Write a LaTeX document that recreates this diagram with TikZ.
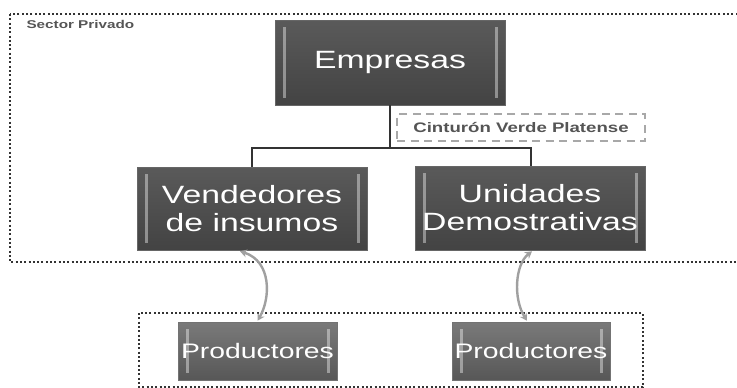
\documentclass[tikz,border=0pt]{standalone}
\usepackage{fontspec}
\setmainfont{Liberation Sans}[FakeStretch=1.35]
\usetikzlibrary{arrows.meta,calc}
\definecolor{boxtop}{HTML}{5A5A5A}
\definecolor{boxbot}{HTML}{434343}
\definecolor{ptop}{HTML}{7A7A7A}
\definecolor{pbot}{HTML}{575757}
\definecolor{dotc}{HTML}{333333}
\definecolor{arrc}{HTML}{A0A0A0}
\definecolor{dashc}{HTML}{A8A8A8}
\definecolor{labc}{HTML}{555555}
\tikzset{
  darkbox/.style={draw=black!60, line width=0.6pt, top color=boxtop, bottom color=boxbot,
    text=white, align=center, inner sep=0pt, font=\fontsize{25}{28}\selectfont},
  prodbox/.style={draw=black!55, line width=0.6pt, top color=ptop, bottom color=pbot,
    text=white, align=center, inner sep=0pt, font=\fontsize{21}{24}\selectfont},
  grpbox/.style={draw=dotc, line width=2pt, dash pattern=on 2pt off 2.3pt},
  cintbox/.style={draw=dashc, line width=1.8pt, dash pattern=on 8pt off 5.5pt,
    text=labc, font=\bfseries\fontsize{13.8}{16}\selectfont, inner sep=0pt},
  conn/.style={draw=black!80, line width=1.3pt},
  biarrow/.style={draw=arrc, line width=2.4pt, {Stealth[length=7pt,width=8pt]}-{Stealth[length=7pt,width=8pt]}},
  bevel/.style={fill=white, opacity=0.4}
}
\begin{document}
\begin{tikzpicture}[x=1pt,y=-1pt]
\useasboundingbox (0,0) rectangle (737,388);
\fill[white] (0,0) rectangle (737,388);
% group boxes
\draw[grpbox] (10,14) rectangle (760,262);
\draw[grpbox] (139,313) rectangle (643,387);
\node[anchor=base west, text=labc, font=\bfseries\fontsize{11.3}{13}\selectfont] (sp) at (23,28) {Sector Privado};
% nodes
\node[darkbox, minimum width=230pt, minimum height=85pt] (emp) at (390,62.5) {Empresas};
\node[darkbox, minimum width=230pt, minimum height=83pt] (vend) at (252,208.5) {Vendedores\\de insumos};
\node[darkbox, minimum width=230pt, minimum height=84pt] (unid) at (530,208) {Unidades\\Demostrativas};
\node[prodbox, minimum width=159pt, minimum height=58pt] (p1) at (257.5,351) {Productores};
\node[prodbox, minimum width=158pt, minimum height=58pt] (p2) at (531,351) {Productores};
\node[cintbox, minimum width=248pt, minimum height=27pt] (cint) at (521,127.5) {Cinturón Verde Platense};
% bevel highlights
\foreach \n in {emp,vend,unid,p1,p2}{
  \fill[bevel] ($(\n.north west)+(8,7)$) rectangle ($(\n.south west)+(11,-7)$);
  \fill[bevel] ($(\n.north east)+(-10,7)$) rectangle ($(\n.south east)+(-7,-7)$);
}
% connectors
\coordinate (j) at (390,148);
\draw[conn] (emp.south) -- (j);
\draw[conn] (vend.north) |- (j) -| ($(unid.north)+(1,0)$);
% double arrows
\coordinate (a1) at ($(vend.south)+(-12,1)$);
\coordinate (b1) at ($(p1.north)+(0,-1)$);
\draw[biarrow] (a1) .. controls ($(a1)+(32,10)$) and ($(b1)+(13,-22)$) .. (b1);
\coordinate (a2) at ($(unid.south)+(2,1)$);
\coordinate (b2) at ($(p2.north)+(-4,-1)$);
\draw[biarrow] (a2) .. controls ($(a2)+(-17,13)$) and ($(b2)+(-14,-22)$) .. (b2);
\end{tikzpicture}
\end{document}
